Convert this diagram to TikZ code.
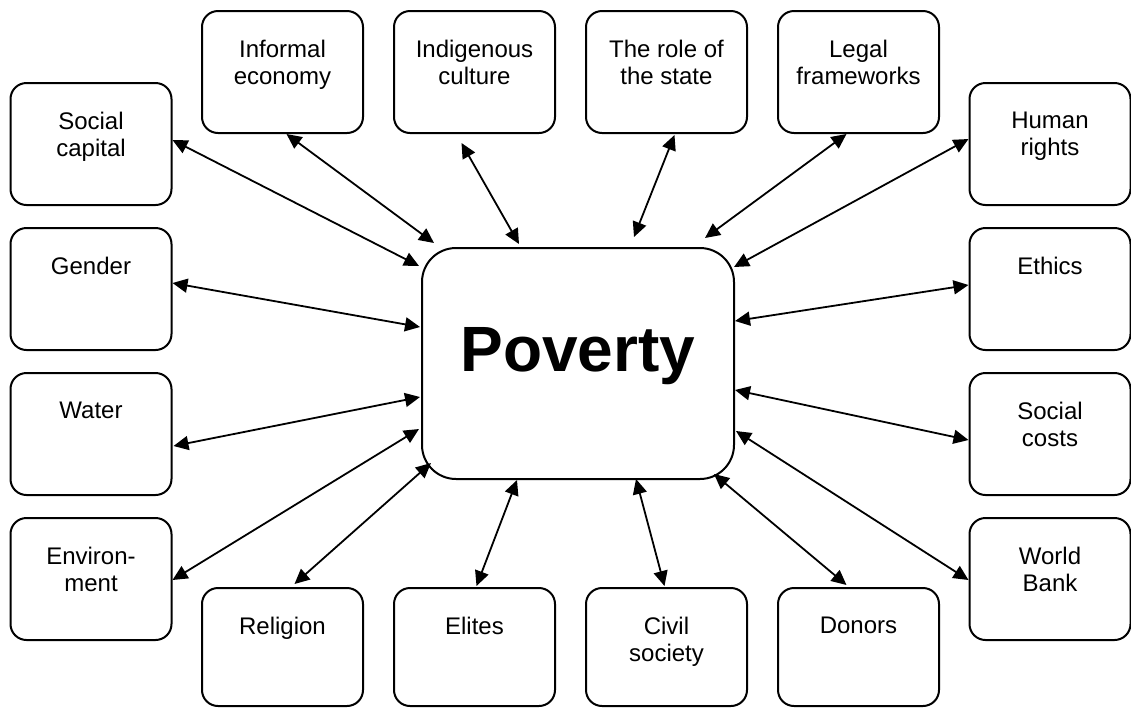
\documentclass[tikz,border=0pt]{standalone}
\usepackage{fontspec}
\setmainfont{Liberation Sans}
\usetikzlibrary{positioning,calc,arrows.meta}

\newcommand{\topictext}[2][61pt]{\parbox[c][#1][t]{80.5pt}{\centering\vspace*{14.5pt}#2}}

\begin{document}
\begin{tikzpicture}[x=0.5pt, y=-0.5pt,
	topic/.style={draw, line width=1pt, rounded corners=8pt, inner sep=0pt, font=\fontsize{12}{13.5}\selectfont},
	core/.style={draw, line width=1pt, rounded corners=17pt, inner sep=0pt},
	link/.style={<->, >={Triangle[length=7.5pt,width=7pt]}, line width=0.9pt}]
	
	\useasboundingbox (0,0) rectangle (1131,708);
	
	\node[core] (pov) at (578,363.5) {\parbox[c][115.5pt][t]{156pt}{\centering\vspace*{39.5pt}\fontsize{32}{38}\selectfont\bfseries Poverty}};
	
	% top row
	\node[topic] (inf) at (282.5,72) {\topictext{Informal\\economy}};
	\node[topic, right=14.5pt of inf] (ind) {\topictext{Indigenous\\culture}};
	\node[topic, right=14.5pt of ind] (role) {\topictext{The role of\\the state}};
	\node[topic, right=14.5pt of role] (leg) {\topictext{Legal\\frameworks}};
	
	% left column
	\node[topic] (soc) at (91,144) {\topictext{Social\\capital}};
	\node[topic, below=10.5pt of soc] (gen) {\topictext{Gender}};
	\node[topic, below=10.5pt of gen] (wat) {\topictext{Water}};
	\node[topic, below=10.5pt of wat] (env) {\topictext{Environ-\\ment}};
	
	% right column
	\node[topic] (hum) at (1050,144) {\topictext{Human\\rights}};
	\node[topic, below=10.5pt of hum] (eth) {\topictext{Ethics}};
	\node[topic, below=10.5pt of eth] (socc) {\topictext{Social\\costs}};
	\node[topic, below=10.5pt of socc] (wb) {\topictext{World\\Bank}};
	
	% bottom row
	\node[topic] (rel) at (282.5,647) {\topictext[59pt]{Religion}};
	\node[topic, right=14.5pt of rel] (eli) {\topictext[59pt]{Elites}};
	\node[topic, right=14.5pt of eli] (civ) {\topictext[59pt]{Civil\\society}};
	\node[topic, right=14.5pt of civ] (don) {\topictext[59pt]{Donors}};
	
	% links to the centre
	\draw[link] ($(soc.east)+(0,-4)$) -- ($(pov.north west)+(-2,19)$);
	\draw[link] ($(inf.south)+(4,0)$) -- ($(pov.north west)+(13,-4)$);
	\draw[link] ($(ind.south)+(-13,9)$) -- ($(pov.north west)+(98,-3)$);
	\draw[link] ($(role.south)+(8,1)$) -- ($(pov.north west)+(213,-10)$);
	\draw[link] ($(leg.south)+(-12,0)$) -- ($(pov.north east)+(-30,-9)$);
	\draw[link] ($(hum.west)+(0,-5)$) -- ($(pov.north east)+(-1,20)$);
	\draw[link] ($(gen.east)+(0,-6)$) -- ($(pov.north west)+(-1,80)$);
	\draw[link] ($(wat.east)+(1,12)$) -- ($(pov.north west)+(-1,150)$);
	\draw[link] ($(env.east)+(0,1)$) -- ($(pov.north west)+(-2,182)$);
	\draw[link] ($(rel.north)+(12,-3)$) -- ($(pov.south west)+(10,-17)$);
	\draw[link] ($(eli.north)+(2,-1)$) -- ($(pov.south west)+(96,0)$);
	\draw[link] ($(civ.north)+(-2,-1)$) -- ($(pov.south west)+(215,-1)$);
	\draw[link] ($(don.north)+(-12,-2)$) -- ($(pov.south east)+(-21,-6)$);
	\draw[link] ($(wb.west)+(0,1)$) -- ($(pov.south east)+(1,-49)$);
	\draw[link] ($(socc.west)+(0,6)$) -- ($(pov.north east)+(0,143)$);
	\draw[link] ($(eth.west)+(0,-4)$) -- ($(pov.north east)+(0,74)$);
\end{tikzpicture}
\end{document}
